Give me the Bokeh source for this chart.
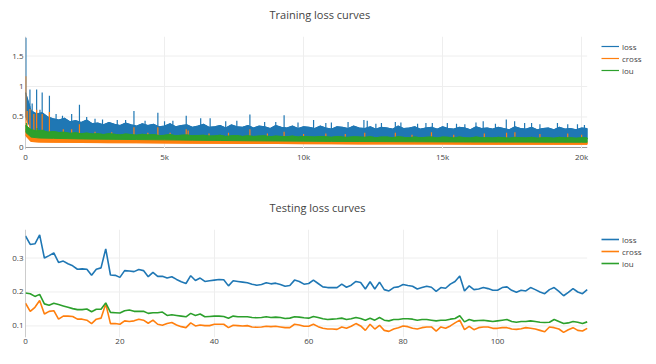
import numpy as np
from bokeh.plotting import figure
from bokeh.layouts import column
from bokeh.models import Legend, LegendItem, Range1d, FixedTicker, Span, Title
from bokeh.embed import file_html
from bokeh.resources import INLINE

FONT = "Open Sans"
series_names = ["loss", "cross", "iou"]
series_colors = ["#1f77b4", "#ff7f0e", "#2ca02c"]

# ---------------- Training loss (dense curves, read as envelopes + spikes) ----------------
train_iters = list(range(0, 20201, 200))
train_loss_hi = [0.90, 0.60, 0.55, 0.57, 0.50, 0.47, 0.45, 0.48, 0.42, 0.44,
                 0.41, 0.45, 0.39, 0.40, 0.37, 0.41, 0.38, 0.36, 0.40, 0.37,
                 0.35, 0.39, 0.36, 0.38, 0.34, 0.35, 0.39, 0.34, 0.36, 0.37,
                 0.33, 0.35, 0.38, 0.33, 0.34, 0.36, 0.32, 0.37, 0.34, 0.33,
                 0.36, 0.32, 0.35, 0.34, 0.31, 0.36, 0.33, 0.32, 0.35, 0.31,
                 0.34, 0.33, 0.31, 0.35, 0.32, 0.30, 0.34, 0.33, 0.31, 0.35,
                 0.32, 0.31, 0.34, 0.30, 0.33, 0.32, 0.30, 0.35, 0.31, 0.32,
                 0.34, 0.30, 0.32, 0.33, 0.30, 0.34, 0.31, 0.30, 0.33, 0.32,
                 0.29, 0.34, 0.31, 0.32, 0.30, 0.33, 0.31, 0.29, 0.34, 0.31,
                 0.30, 0.33, 0.29, 0.31, 0.32, 0.29, 0.33, 0.30, 0.31, 0.29,
                 0.32, 0.31]
train_iou_hi = [0.36, 0.29, 0.27, 0.28, 0.25, 0.26, 0.245, 0.25, 0.23, 0.24,
                0.225, 0.235, 0.22, 0.225, 0.21, 0.225, 0.215, 0.205, 0.22, 0.21,
                0.20, 0.215, 0.205, 0.21, 0.195, 0.20, 0.21, 0.19, 0.20, 0.205,
                0.19, 0.195, 0.20, 0.185, 0.19, 0.20, 0.18, 0.19, 0.195, 0.18,
                0.19, 0.18, 0.185, 0.19, 0.175, 0.185, 0.18, 0.175, 0.185, 0.17,
                0.18, 0.175, 0.17, 0.18, 0.175, 0.165, 0.18, 0.17, 0.165, 0.175,
                0.17, 0.165, 0.175, 0.16, 0.17, 0.17, 0.16, 0.175, 0.165, 0.16,
                0.17, 0.16, 0.165, 0.17, 0.155, 0.17, 0.165, 0.155, 0.17, 0.16,
                0.155, 0.17, 0.16, 0.16, 0.155, 0.165, 0.16, 0.15, 0.165, 0.16,
                0.155, 0.165, 0.15, 0.16, 0.16, 0.15, 0.165, 0.155, 0.16, 0.15,
                0.16, 0.155]
env_iters = [0, 200, 500, 1000, 1500, 2000, 3000, 4000, 5000, 6000, 7000, 8000, 9000,
             10000, 11000, 12000, 13000, 14000, 15000, 16000, 17000, 18000, 19000, 20000, 20200]
train_loss_lo = [0.5, 0.3, 0.25, 0.22, 0.21, 0.2, 0.19, 0.185, 0.18, 0.175, 0.17, 0.17, 0.165,
                 0.16, 0.16, 0.155, 0.155, 0.15, 0.15, 0.15, 0.145, 0.145, 0.14, 0.14, 0.14]
train_cross_hi = [0.3, 0.2, 0.17, 0.16, 0.15, 0.145, 0.14, 0.135, 0.13, 0.125, 0.12, 0.115, 0.11,
                  0.11, 0.105, 0.105, 0.1, 0.1, 0.1, 0.095, 0.095, 0.095, 0.09, 0.09, 0.09]
train_cross_lo = [0.2, 0.1, 0.09, 0.088, 0.086, 0.084, 0.08, 0.078, 0.075, 0.072, 0.07, 0.068, 0.066,
                  0.064, 0.062, 0.06, 0.06, 0.058, 0.057, 0.056, 0.055, 0.055, 0.054, 0.054, 0.054]
train_iou_lo = [0.25, 0.17, 0.155, 0.15, 0.145, 0.14, 0.135, 0.13, 0.125, 0.12, 0.115, 0.11, 0.107,
                0.104, 0.1, 0.098, 0.096, 0.094, 0.092, 0.09, 0.089, 0.088, 0.087, 0.086, 0.086]

loss_spike_iters = [15, 160, 240, 400, 520, 600, 860, 1100, 1330, 1660,
                    1940, 2200, 2500, 2770, 3300, 3600, 3900, 4300, 4760, 5000,
                    5300, 5780, 6300, 6640, 7200, 7600, 8070, 8600, 9000, 9300,
                    9800, 10360, 10800, 11000, 11600, 12170, 12290, 12600, 12800, 13300,
                    13500, 14100, 14400, 14630, 15170, 15500, 15800, 16200, 16460, 16900,
                    17290, 17590, 17950, 18200, 18500, 19130, 19500, 19850, 20100]
loss_spike_vals = [1.8, 0.95, 0.72, 0.95, 0.62, 0.9, 0.85, 0.55, 0.52, 0.55,
                   0.7, 0.5, 0.47, 0.46, 0.45, 0.45, 0.6, 0.44, 0.57, 0.43,
                   0.44, 0.52, 0.48, 0.48, 0.43, 0.44, 0.54, 0.42, 0.42, 0.53,
                   0.41, 0.45, 0.4, 0.41, 0.42, 0.45, 0.44, 0.39, 0.4, 0.42,
                   0.41, 0.39, 0.4, 0.4, 0.4, 0.39, 0.38, 0.41, 0.43, 0.39,
                   0.46, 0.43, 0.4, 0.4, 0.38, 0.4, 0.38, 0.38, 0.37]
cross_spike_iters = [10, 60, 160, 300, 400, 600, 860, 1360, 1660, 1940,
                     2500, 3100, 3900, 4400, 4760, 5200, 5780, 5850, 6600, 7300,
                     8070, 8700, 9300, 10000, 10800, 11500, 12200, 13300, 13900, 14600,
                     15400, 16500, 17300, 17600, 18500, 19500, 20000]
cross_spike_vals = [1.17, 0.6, 0.63, 0.55, 0.62, 0.55, 0.58, 0.3, 0.3, 0.38,
                    0.26, 0.25, 0.33, 0.24, 0.33, 0.24, 0.3, 0.28, 0.23, 0.24,
                    0.3, 0.23, 0.26, 0.22, 0.23, 0.22, 0.24, 0.24, 0.21, 0.25,
                    0.21, 0.23, 0.24, 0.25, 0.22, 0.23, 0.21]
iou_spike_iters = [30, 420]
iou_spike_vals = [0.40, 0.32]

train_xticks = [0, 5000, 10000, 15000, 20000]
train_xlabels = ["0", "5k", "10k", "15k", "20k"]
train_yticks = [0, 0.5, 1, 1.5]
train_ylabels = ["0", "0.5", "1", "1.5"]

# ---------------- Testing loss ----------------
test_epochs = list(range(120))
test_loss = [0.365, 0.34, 0.342, 0.368, 0.30, 0.307, 0.315, 0.287, 0.291, 0.283,
             0.277, 0.267, 0.268, 0.267, 0.249, 0.267, 0.271, 0.327, 0.25, 0.249,
             0.243, 0.263, 0.262, 0.26, 0.266, 0.263, 0.245, 0.258, 0.246, 0.246,
             0.241, 0.245, 0.237, 0.23, 0.225, 0.248, 0.234, 0.241, 0.231, 0.233,
             0.235, 0.237, 0.236, 0.218, 0.233, 0.231, 0.229, 0.227, 0.223, 0.22,
             0.222, 0.227, 0.224, 0.226, 0.222, 0.217, 0.219, 0.235, 0.231, 0.223,
             0.225, 0.235, 0.225, 0.215, 0.213, 0.213, 0.213, 0.223, 0.214, 0.22,
             0.231, 0.228, 0.209, 0.23, 0.209, 0.229, 0.207, 0.203, 0.213, 0.215,
             0.222, 0.219, 0.217, 0.209, 0.213, 0.217, 0.214, 0.202, 0.213, 0.211,
             0.223, 0.231, 0.247, 0.203, 0.218, 0.207, 0.209, 0.213, 0.21, 0.205,
             0.205, 0.213, 0.215, 0.205, 0.199, 0.205, 0.203, 0.213, 0.207, 0.2,
             0.195, 0.207, 0.213, 0.202, 0.189, 0.199, 0.21, 0.2, 0.195, 0.207]
test_cross = [0.167, 0.143, 0.155, 0.175, 0.135, 0.143, 0.145, 0.12, 0.129, 0.129,
              0.128, 0.12, 0.12, 0.117, 0.107, 0.12, 0.123, 0.165, 0.107, 0.107,
              0.105, 0.115, 0.113, 0.115, 0.12, 0.117, 0.108, 0.117, 0.105, 0.102,
              0.107, 0.11, 0.103, 0.098, 0.095, 0.109, 0.1, 0.103, 0.101, 0.101,
              0.105, 0.105, 0.105, 0.095, 0.102, 0.101, 0.1, 0.101, 0.097, 0.096,
              0.097, 0.099, 0.098, 0.099, 0.097, 0.095, 0.095, 0.105, 0.103, 0.099,
              0.099, 0.105, 0.098, 0.093, 0.091, 0.091, 0.09, 0.097, 0.093, 0.099,
              0.107, 0.1, 0.087, 0.105, 0.091, 0.102, 0.087, 0.084, 0.091, 0.095,
              0.1, 0.098, 0.093, 0.091, 0.095, 0.097, 0.097, 0.085, 0.097, 0.093,
              0.1, 0.109, 0.117, 0.089, 0.099, 0.089, 0.095, 0.097, 0.097, 0.093,
              0.093, 0.095, 0.095, 0.091, 0.09, 0.092, 0.095, 0.093, 0.091, 0.087,
              0.083, 0.097, 0.095, 0.091, 0.081, 0.089, 0.095, 0.087, 0.085, 0.093]
test_iou = [0.197, 0.195, 0.187, 0.193, 0.165, 0.161, 0.167, 0.163, 0.159, 0.155,
            0.151, 0.148, 0.148, 0.15, 0.142, 0.149, 0.149, 0.168, 0.14, 0.139,
            0.138, 0.145, 0.147, 0.143, 0.143, 0.143, 0.137, 0.139, 0.139, 0.141,
            0.131, 0.133, 0.131, 0.129, 0.127, 0.137, 0.131, 0.135, 0.127, 0.128,
            0.129, 0.129, 0.128, 0.123, 0.129, 0.127, 0.127, 0.127, 0.125, 0.124,
            0.125, 0.127, 0.125, 0.126, 0.125, 0.122, 0.123, 0.127, 0.126, 0.124,
            0.123, 0.128, 0.125, 0.121, 0.119, 0.12, 0.121, 0.123, 0.119, 0.121,
            0.125, 0.122, 0.117, 0.123, 0.117, 0.125, 0.117, 0.115, 0.119, 0.119,
            0.121, 0.121, 0.12, 0.117, 0.119, 0.119, 0.117, 0.115, 0.117, 0.117,
            0.12, 0.122, 0.13, 0.112, 0.119, 0.115, 0.116, 0.117, 0.115, 0.113,
            0.115, 0.117, 0.119, 0.113, 0.111, 0.113, 0.113, 0.115, 0.113, 0.111,
            0.11, 0.111, 0.119, 0.113, 0.107, 0.109, 0.113, 0.111, 0.107, 0.112]
test_xticks = [0, 20, 40, 60, 80, 100]
test_xlabels = ["0", "20", "40", "60", "80", "100"]
test_yticks = [0.1, 0.2, 0.3]
test_ylabels = ["0.1", "0.2", "0.3"]

# ---------------- layout constants ----------------
FIG_W = 650
BORDER_L = 25
BORDER_R = 5
FRAME_W = FIG_W - BORDER_L - BORDER_R      # frame also hosts the legend
PLOT_W = 561.7                              # width of the data area inside the frame


def make_fig(title, height, x_last, yr, border_bottom):
    x_end = x_last * FRAME_W / PLOT_W
    p = figure(width=FIG_W, height=height, title=title,
               x_range=Range1d(0, x_end), y_range=Range1d(*yr),
               output_backend="svg", toolbar_location=None,
               min_border_left=BORDER_L, min_border_right=BORDER_R,
               min_border_top=0, min_border_bottom=border_bottom)
    # blank gap between the frame and the title
    gap = Title(text=" ", text_font_size="1px", standoff=4)
    p.add_layout(gap, "above")
    p.title.align = "left"
    p.title.offset = 244
    p.title.standoff = 12
    p.title.vertical_align = "top"
    p.title.text_font = FONT
    p.title.text_font_size = "11px"
    p.title.text_font_style = "normal"
    p.title.text_color = "#444444"
    p.outline_line_color = None
    p.background_fill_color = "white"
    p.xgrid.grid_line_color = "#eeeeee"
    p.ygrid.grid_line_color = None
    for ax in (p.below[0], p.left[0]):
        ax.axis_line_color = None
        ax.major_tick_line_color = None
        ax.minor_tick_line_color = None
        ax.major_tick_out = 0
        ax.major_tick_in = 0
        ax.minor_tick_out = 0
        ax.minor_tick_in = 0
        ax.major_label_text_font = FONT
        ax.major_label_text_font_size = "8px"
        ax.major_label_text_color = "#444444"
    p.below[0].major_label_standoff = 1
    p.left[0].major_label_standoff = 2
    return p


def set_ticks(p, xt, xl, yt, yl, x_last):
    xa, ya = p.below[0], p.left[0]
    xa.ticker = FixedTicker(ticks=xt, minor_ticks=[])
    ya.ticker = FixedTicker(ticks=yt, minor_ticks=[])
    p.xgrid.ticker = FixedTicker(ticks=xt, minor_ticks=[])
    xa.major_label_overrides = dict(zip(xt, xl))
    ya.major_label_overrides = dict(zip(yt, yl))
    # horizontal grid lines only across the data area
    p.segment(x0=[0] * len(yt), y0=yt, x1=[x_last] * len(yt), y1=yt,
              line_color="#eeeeee", line_width=1, level="underlay")


def add_legend(p, renderers, y):
    items = [LegendItem(label=n, renderers=[r]) for n, r in zip(series_names, renderers)]
    lg = Legend(items=items, location=(576, y), orientation="vertical",
                padding=0, margin=0, spacing=0,
                glyph_width=18, glyph_height=12, label_height=12, label_standoff=3,
                label_text_font=FONT, label_text_font_size="8px", label_text_color="#444444",
                border_line_color=None, background_fill_alpha=0)
    p.add_layout(lg)


def band(p, x_hi, hi, x_lo, lo, color):
    xs = list(x_hi) + list(x_lo)[::-1]
    ys = list(hi) + list(lo)[::-1]
    p.patch(xs, ys, fill_color=color, line_color=color, line_width=1)


def spikes(p, sx, sv, ex, ey, color):
    base = np.interp(sx, ex, ey)
    p.segment(x0=sx, y0=base, x1=sx, y1=sv, line_color=color, line_width=1.2)


# ---- Training figure ----
x_last_train = train_iters[-1]
p1 = make_fig("Training loss curves", 193, x_last_train, (-0.033, 1.82), 44)
set_ticks(p1, train_xticks, train_xlabels, train_yticks, train_ylabels, x_last_train)
p1.add_layout(Span(location=0, dimension="height", line_color="#999999", line_width=1, level="underlay"))
p1.segment(x0=[0], y0=[0], x1=[x_last_train], y1=[0], line_color="#999999", line_width=1, level="underlay")

band(p1, train_iters, train_loss_hi, env_iters, train_loss_lo, series_colors[0])
spikes(p1, loss_spike_iters, loss_spike_vals, train_iters, train_loss_hi, series_colors[0])
r_loss = p1.line(train_iters, train_loss_hi, line_color=series_colors[0], line_width=1.2)

band(p1, env_iters, train_cross_hi, env_iters, train_cross_lo, series_colors[1])
spikes(p1, cross_spike_iters, cross_spike_vals, env_iters, train_cross_hi, series_colors[1])
r_cross = p1.line(env_iters, train_cross_lo, line_color=series_colors[1], line_width=1.2)

band(p1, train_iters, train_iou_hi, env_iters, train_iou_lo, series_colors[2])
spikes(p1, iou_spike_iters, iou_spike_vals, train_iters, train_iou_hi, series_colors[2])
r_iou = p1.line(train_iters, train_iou_hi, line_color=series_colors[2], line_width=1.2)

add_legend(p1, [r_loss, r_cross, r_iou], 73)

# ---- Testing figure ----
x_last_test = test_epochs[-1]
p2 = make_fig("Testing loss curves", 155, x_last_test, (0.066, 0.384), 11)
set_ticks(p2, test_xticks, test_xlabels, test_yticks, test_ylabels, x_last_test)
p2.add_layout(Span(location=0, dimension="height", line_color="#999999", line_width=1, level="underlay"))
rs = []
for vals, col in zip([test_loss, test_cross, test_iou], series_colors):
    rs.append(p2.line(test_epochs, vals, line_color=col, line_width=1.6))
add_legend(p2, rs, 68)

layout = column(p1, p2, spacing=0)
open("out.html", "w").write(file_html(layout, INLINE))
